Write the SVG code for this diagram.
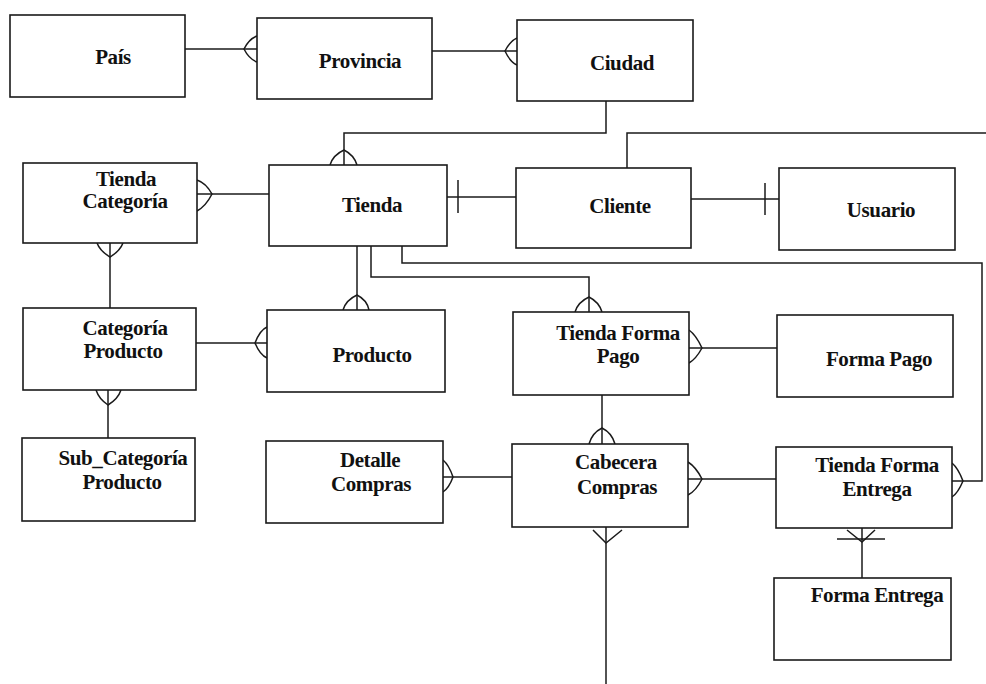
<svg xmlns="http://www.w3.org/2000/svg" width="986" height="684" viewBox="0 0 986 684">
<style>
.e{fill:#fff;stroke:#1a1a1a;stroke-width:1.6}
.t{font-family:"Liberation Serif","Times New Roman",serif;font-weight:bold;font-size:21px;fill:#111;text-anchor:middle;letter-spacing:-0.4px}
.c path{fill:none;stroke:#1a1a1a;stroke-width:1.5}
</style>
<rect width="986" height="684" fill="#fff"/>
<g class="c" id="connectors">
<path d="M185,49 H257"/>
<path d="M432,51 H517"/>
<path d="M606,101 V133 H344 V165"/>
<path d="M197,194 H269"/>
<path d="M447,197 H516"/>
<path d="M691,199 H779"/>
<path d="M627,168 V133 H986"/>
<path d="M110,243 V308"/>
<path d="M196,343 H267"/>
<path d="M108,390 V438"/>
<path d="M357,246 V310"/>
<path d="M371,246 V277 H589 V312"/>
<path d="M402,246 V263 H982 V481 H952"/>
<path d="M689,348 H777"/>
<path d="M602,395 V444"/>
<path d="M443,477 H512"/>
<path d="M688,479 H776"/>
<path d="M606,527 V684"/>
<path d="M862,528 V578"/>
<!-- crow's feet -->
<path d="M257,36 Q249,39 244,49 Q249,59 257,62"/>
<path d="M517,38 Q510,41 505,51 Q510,62 517,65"/>
<path d="M330,165 Q333,155 344,150 Q354,155 357,165"/>
<path d="M197,180 Q206,183 212,194 Q206,206 197,211"/>
<path d="M97,243 Q100,251 110,257 Q120,251 123,243"/>
<path d="M267,327 Q260,330 255,343 Q260,355 267,358"/>
<path d="M96,390 Q99,399 108,405 Q118,399 121,390"/>
<path d="M343,310 Q346,300 357,295 Q367,300 369,310"/>
<path d="M575,312 Q578,302 589,297 Q599,302 602,312"/>
<path d="M952,463 Q958,468 963,481 Q958,493 952,497"/>
<path d="M689,330 Q696,335 702,348 Q696,359 689,363"/>
<path d="M589,444 Q592,433 602,428 Q612,433 615,444"/>
<path d="M443,460 Q449,465 453,477 Q449,488 443,492"/>
<path d="M688,462 Q696,467 702,479 Q696,491 688,495"/>
<path d="M593,530 L606,543 L622,530"/>
<path d="M847,530 L862,542 L875,530"/>
<path d="M837,539 H885"/>
<!-- bars -->
<path d="M458,180 V213"/>
<path d="M765,183 V215"/>
</g>
<g id="pais"><rect class="e" x="10" y="15" width="175" height="82"/><text class="t" x="113" y="64">País</text></g>
<g id="provincia"><rect class="e" x="257" y="18" width="175" height="81"/><text class="t" x="360" y="68">Provincia</text></g>
<g id="ciudad"><rect class="e" x="517" y="20" width="176" height="81"/><text class="t" x="622" y="70">Ciudad</text></g>
<g id="tienda-categoria"><rect class="e" x="23" y="163" width="174" height="80"/><text class="t" x="126" y="186">Tienda</text><text class="t" x="125" y="208">Categoría</text></g>
<g id="tienda"><rect class="e" x="269" y="165" width="178" height="81"/><text class="t" x="372" y="212">Tienda</text></g>
<g id="cliente"><rect class="e" x="516" y="168" width="175" height="80"/><text class="t" x="620" y="213">Cliente</text></g>
<g id="usuario"><rect class="e" x="779" y="168" width="176" height="82"/><text class="t" x="881" y="217">Usuario</text></g>
<g id="categoria-producto"><rect class="e" x="23" y="308" width="173" height="82"/><text class="t" x="125" y="335">Categoría</text><text class="t" x="123" y="358">Producto</text></g>
<g id="producto"><rect class="e" x="267" y="310" width="178" height="82"/><text class="t" x="372" y="362">Producto</text></g>
<g id="tienda-forma-pago"><rect class="e" x="513" y="312" width="176" height="83"/><text class="t" x="618" y="340">Tienda Forma</text><text class="t" x="618" y="363">Pago</text></g>
<g id="forma-pago"><rect class="e" x="777" y="315" width="176" height="82"/><text class="t" x="879" y="366">Forma Pago</text></g>
<g id="sub-categoria-producto"><rect class="e" x="22" y="438" width="173" height="83"/><text class="t" x="123" y="465">Sub_Categoría</text><text class="t" x="122" y="489">Producto</text></g>
<g id="detalle-compras"><rect class="e" x="266" y="441" width="177" height="82"/><text class="t" x="370" y="467">Detalle</text><text class="t" x="371" y="491">Compras</text></g>
<g id="cabecera-compras"><rect class="e" x="512" y="444" width="176" height="83"/><text class="t" x="616" y="469">Cabecera</text><text class="t" x="617" y="494">Compras</text></g>
<g id="tienda-forma-entrega"><rect class="e" x="776" y="447" width="176" height="81"/><text class="t" x="877" y="472">Tienda Forma</text><text class="t" x="877" y="496">Entrega</text></g>
<g id="forma-entrega"><rect class="e" x="774" y="578" width="177" height="82"/><text class="t" x="877" y="602">Forma Entrega</text></g>
</svg>
